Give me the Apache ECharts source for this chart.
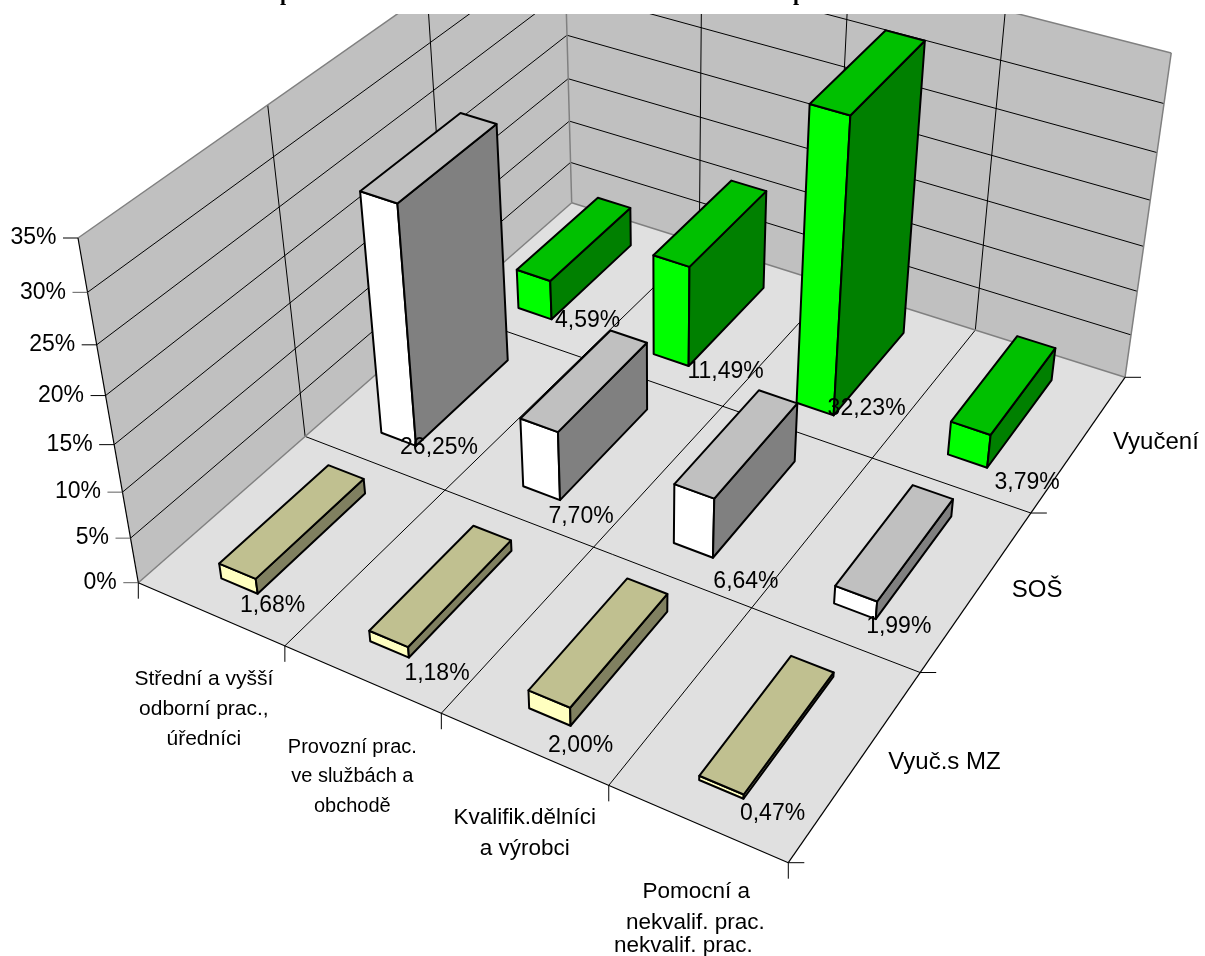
<!DOCTYPE html>
<html><head><meta charset="utf-8">
<style>html,body{margin:0;padding:0;background:#fff}#c{width:1205px;height:956px}</style>
<script src="https://cdn.jsdelivr.net/npm/echarts@6/dist/echarts.min.js"></script>
</head><body><div id="c"></div>
<script>
// ---- data ----
const categories = ['Střední a vyšší odborní prac., úředníci','Provozní prac. ve službách a obchodě','Kvalifik.dělníci a výrobci','Pomocní a nekvalif. prac.'];
const categoryLines = [['Střední a vyšší','odborní prac.,','úředníci'],['Provozní prac.','ve službách a','obchodě'],['Kvalifik.dělníci','a výrobci'],['Pomocní a','nekvalif. prac.','nekvalif. prac.']];
const rows = ['Vyučení','SOŠ','Vyuč.s MZ'];            // back to front
const vyuceni = [4.59, 11.49, 32.23, 3.79];
const sos     = [26.25, 7.70, 6.64, 1.99];
const vyucMZ  = [1.68, 1.18, 2.00, 0.47];
const valueTicks = [0,5,10,15,20,25,30,35];
// ---- layout and style ----
const floor = {p00:[138.3,582.7], p10:[788.3,862.7], p11:[1125,377.3], p01:[571.7,202.7]};
const top00 = [78,238], top11 = [1172,53];
const barU = 0.25, barShift = -0.005, barV = 0.66;
const rowStyle = [
 {top:'#00C000', front:'#00FF00', side:'#008000'},
 {top:'#C0C0C0', front:'#FFFFFF', side:'#808080'},
 {top:'#C0C090', front:'#FFFFC0', side:'#808060'}];
const FONT = '23px "Liberation Sans", Arial, sans-serif';
const catFontSizes = [21, 20, 22.5, 22.5];
const ROWFONT = '24px "Liberation Sans", Arial, sans-serif';
// label placement relative to each bar's front corner, per row then per category
const labelNudge = [
 [[36,-7],[37,-2],[33,-15],[40,7]],
 [[23,-6],[21,9],[33,16],[23,0]],
 [[15,4],[28,8],[10,12],[29,7]]];
// centre of each category label line relative to its axis tick
const catLabelOffset = [
 [[-81,33],[-81,63],[-81,93]],
 [[-89,34],[-89,63],[-89,93]],
 [[-84,32],[-84,63]],
 [[-92,29],[-93,60],[-105,83]]];
const rowLabelOffset = [{x:-12,y:65},{x:-19,y:77},{x:-32,y:90}];

// projection: floor homography plus a height column
function homography(){
  const [x0,y0]=floor.p00,[x1,y1]=floor.p10,[x2,y2]=floor.p11,[x3,y3]=floor.p01;
  const dx1=x1-x2,dx2=x3-x2,sx=x0-x1+x2-x3,dy1=y1-y2,dy2=y3-y2,sy=y0-y1+y2-y3;
  const d=dx1*dy2-dx2*dy1, g=(sx*dy2-dx2*sy)/d, h=(dx1*sy-sx*dy1)/d;
  return [x1-x0+g*x1, x3-x0+h*x3, x0, y1-y0+g*y1, y3-y0+h*y3, y0, g, h, 1];
}
const H = homography();
function hom(u,v){return [H[0]*u+H[1]*v+H[2], H[3]*u+H[4]*v+H[5], H[6]*u+H[7]*v+H[8]];}
const C = (function(){
  const A=hom(0,0), B=hom(1,1);
  const a1=top00[0]*A[2]-A[0], a2=top00[1]*A[2]-A[1];
  const b2=top11[1]*B[2]-B[1];
  const c3=(b2-a2)/(top00[1]-top11[1]);
  const c2=a2+top00[1]*c3, c1=a1+top00[0]*c3;
  return [c1,c2,c3];
})();
function P(u,v,w){
  const p=hom(u,v);const X=p[0]+C[0]*w,Y=p[1]+C[1]*w,W=p[2]+C[2]*w;
  return [X/W-w*v*(3+4*u),Y/W];
}

function heightOf(api,val){const c=api.coord([0,val]);return 1-c[1]/api.getHeight();}
function poly(points,fill,stroke,lw){return {type:'polygon',silent:true,shape:{points},style:{fill,stroke:stroke||null,lineWidth:lw||0,lineJoin:'round'}};}
function line(a,b,stroke,lw){return {type:'line',silent:true,shape:{x1:a[0],y1:a[1],x2:b[0],y2:b[1]},style:{stroke,lineWidth:lw||1}};}
function text(t,x,y,font,align,fill){return {type:'text',silent:true,style:{text:t,x,y,font,fill:fill||'#000',align:align||'center',verticalAlign:'middle'}};}

function renderFrame(params,api){
  const ch=[];
  const W=1;
  ch.push(poly([P(0,0,0),P(0,1,0),P(0,1,W),P(0,0,W)],'#C0C0C0'));
  ch.push(poly([P(0,1,0),P(1,1,0),P(1,1,W),P(0,1,W)],'#C0C0C0'));
  ch.push(poly([P(0,0,0),P(1,0,0),P(1,1,0),P(0,1,0)],'#E0E0E0'));
  valueTicks.forEach(t=>{
    if(t===0||t===35) return;
    const w=heightOf(api,t);
    ch.push(line(P(0,0,w),P(0,1,w),'#000',1));
    ch.push(line(P(0,1,w),P(1,1,w),'#000',1));
  });
  for(let j=1;j<rows.length;j++){
    const v=j/rows.length;
    ch.push(line(P(0,v,0),P(0,v,1),'#000',1));
    ch.push(line(P(0,v,0),P(1,v,0),'#000',1));
  }
  for(let i=1;i<categories.length;i++){
    const u=i/categories.length;
    ch.push(line(P(u,1,0),P(u,1,1),'#000',1));
    ch.push(line(P(u,0,0),P(u,1,0),'#000',1));
  }
  ch.push(line(P(0,0,1),P(0,1,1),'#808080',1.5));
  ch.push(line(P(0,1,1),P(1,1,1),'#808080',1.5));
  ch.push(line(P(1,1,1),P(1,1,0),'#808080',1.5));
  ch.push(line(P(0,1,0),P(0,1,1),'#808080',1.5));
  ch.push(line(P(0,0,0),P(0,1,0),'#808080',1.5));
  ch.push(line(P(0,1,0),P(1,1,0),'#808080',1.5));
  ch.push(line(P(0,0,0),P(0,0,1),'#000',1.2));
  ch.push(line(P(0,0,0),P(1,0,0),'#000',1.2));
  ch.push(line(P(1,0,0),P(1,1,0),'#000',1.2));
  valueTicks.forEach(t=>{
    const p=P(0,0,heightOf(api,t));
    ch.push(line([p[0]-15,p[1]],p,t===0||t===5||t===10||t===30?'#606060':'#000',1));
    ch.push(text(t+'%',p[0]-21.5,p[1],FONT,'right'));
  });
  for(let i=0;i<=categories.length;i++){
    const p=P(i/categories.length,0,0);
    ch.push(line(p,[p[0],p[1]+16],'#000',1));
    if(i>0){
      const f=catFontSizes[i-1]+'px "Liberation Sans", Arial, sans-serif';
      categoryLines[i-1].forEach((s,k)=>{
        const o=catLabelOffset[i-1][k];
        ch.push(text(s,p[0]+o[0],p[1]+o[1],f));
      });
    }
  }
  for(let j=0;j<=rows.length;j++){
    const p=P(1,j/rows.length,0);
    ch.push(line(p,[p[0]+16,p[1]],'#000',1));
  }
  rows.forEach((r,j)=>{
    const v=(rows.length-j)/rows.length;
    const p=P(1,v,0), o=rowLabelOffset[j];
    ch.push(text(r,p[0]+o.x,p[1]+o.y,ROWFONT,'left'));
  });
  // the picture is cropped across the title: only the descenders remain
  ch.push({type:'rect',silent:true,shape:{x:0,y:0,width:1205,height:14},style:{fill:'#fff'}});
  ch.push(text('p',286,-6,'bold 22px "Liberation Serif", serif'));
  ch.push(text('p',799,-6,'bold 22px "Liberation Serif", serif'));
  return {type:'group',children:ch};
}

function barGeom(api,rowIdx,catIdx,val){
  const c=api.coord([catIdx,val]);
  const uc=c[0]/api.getWidth();
  const n=rows.length, m=categories.length;
  const vc=(n-1-rowIdx+0.5)/n;
  return {u0:uc+(barShift-barU/2)/m,u1:uc+(barShift+barU/2)/m,v0:vc-barV/n/2,v1:vc+barV/n/2,w:1-c[1]/api.getHeight()};
}
function renderBar(rowIdx){
  return function(params,api){
    const g=barGeom(api,rowIdx,api.value(0),api.value(1));
    const s=rowStyle[rowIdx], L=2;
    const a=P(g.u0,g.v0,0),b=P(g.u1,g.v0,0),c=P(g.u1,g.v1,0);
    const at=P(g.u0,g.v0,g.w),bt=P(g.u1,g.v0,g.w),ct=P(g.u1,g.v1,g.w),dt=P(g.u0,g.v1,g.w);
    return {type:'group',children:[
      poly([a,b,bt,at],s.front,'#000',L),
      poly([b,c,ct,bt],s.side,'#000',L),
      poly([at,bt,ct,dt],s.top,'#000',L)
    ]};
  };
}
function renderLabel(rowIdx){
  return function(params,api){
    const val=api.value(1), i=api.value(0);
    const g=barGeom(api,rowIdx,i,val);
    const b=P(g.u1,g.v0,0), o=labelNudge[rowIdx][i];
    return text(val.toFixed(2).replace('.',',')+'%',b[0]+o[0],b[1]+o[1]+8,FONT);
  };
}
const rowValues=[vyuceni,sos,vyucMZ];
const series=[{type:'custom',name:'frame',silent:true,renderItem:renderFrame,data:[[0,0]],z:1,clip:false,animation:false}];
rows.forEach((r,j)=>{
  series.push({type:'custom',name:r,silent:true,renderItem:renderBar(j),z:2+j,clip:false,animation:false,
    data:rowValues[j].map((v,i)=>[i,v])});
});
rows.forEach((r,j)=>{
  series.push({type:'custom',name:r+' labels',silent:true,renderItem:renderLabel(j),z:10,clip:false,animation:false,
    data:rowValues[j].map((v,i)=>[i,v])});
});
const chart=echarts.init(document.getElementById('c'),null,{renderer:'canvas'});
chart.setOption({
  animation:false,backgroundColor:'#fff',
  grid:{left:0,right:0,top:0,bottom:0},
  xAxis:{type:'category',data:categories,show:false},
  yAxis:{type:'value',min:0,max:35,show:false},
  series
});
</script></body></html>
